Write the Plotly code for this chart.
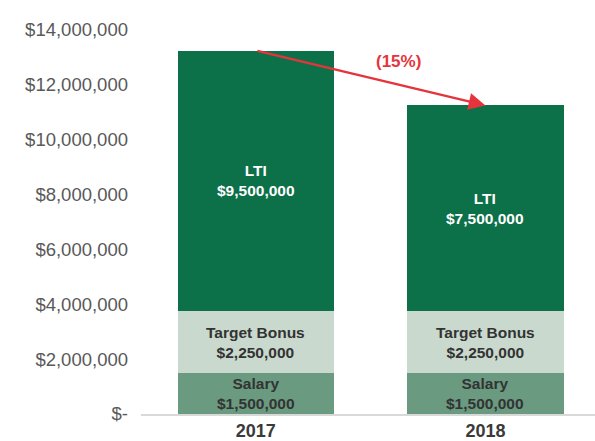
import plotly.graph_objects as go

years = ["2017", "2018"]
salary = [1500000, 1500000]
target_bonus = [2250000, 2250000]
lti = [9500000, 7500000]
tick_vals = [0, 2000000, 4000000, 6000000, 8000000, 10000000, 12000000, 14000000]
tick_text = ["$-", "$2,000,000", "$4,000,000", "$6,000,000", "$8,000,000",
             "$10,000,000", "$12,000,000", "$14,000,000"]

C_LTI = "#0C7049"
C_BONUS = "#C9D9CE"
C_SAL = "#6A9A80"
RED = "#E5343C"
FONT = "Liberation Sans, Arial, sans-serif"

fig = go.Figure()
for name, vals, col in [("Salary", salary, C_SAL), ("Target Bonus", target_bonus, C_BONUS), ("LTI", lti, C_LTI)]:
    fig.add_trace(go.Bar(x=years, y=vals, name=name, marker=dict(color=col, line=dict(width=0)),
                         width=0.68, showlegend=False, hoverinfo="skip"))

annotations = []
for i, yr in enumerate(years):
    segs = [("Salary", salary[i], 0, "#333333"),
            ("Target Bonus", target_bonus[i], salary[i], "#333333"),
            ("LTI", lti[i], salary[i] + target_bonus[i], "#FFFFFF")]
    for label, v, base, fc in segs:
        annotations.append(dict(x=i, y=base + v / 2, xref="x", yref="y", showarrow=False,
                                text=f"<b>{label}<br>${v:,.0f}</b>",
                                font=dict(family=FONT, size=15.5, color=fc)))

totals = [s + b + l for s, b, l in zip(salary, target_bonus, lti)]
change = (totals[1] - totals[0]) / totals[0]

annotations.append(dict(x=1, y=totals[1], ax=0, ay=totals[0],
                        xref="x", yref="y", axref="x", ayref="y",
                        showarrow=True, arrowhead=2, arrowsize=1.4, arrowwidth=2.4,
                        arrowcolor=RED, text="", standoff=0))
frac = 0.62
annotations.append(dict(x=frac, y=totals[0] + (totals[1] - totals[0]) * frac, xref="x", yref="y",
                        yshift=23, showarrow=False,
                        text=f"<b>({abs(change) * 100:.0f}%)</b>",
                        font=dict(family=FONT, size=17, color=RED)))

fig.update_layout(
    width=595, height=441,
    margin=dict(l=141, r=0, t=30, b=25),
    plot_bgcolor="white", paper_bgcolor="white",
    barmode="stack", bargap=0.32,
    annotations=annotations,
    xaxis=dict(type="category", range=[-0.5, 1.477], showgrid=False, showline=True,
               linecolor="#D9D9D9", linewidth=1.5,
               tickfont=dict(family=FONT, size=18, color="#3A3A3A"),
               tickvals=years, ticktext=[f"<b>{y}</b>" for y in years], ticks="", zeroline=False),
    yaxis=dict(range=[0, 14000000], tickvals=tick_vals, ticktext=tick_text, showgrid=False,
               showline=False, zeroline=False, ticks="", ticklabelstandoff=12,
               tickfont=dict(family=FONT, size=18.5, color="#595959")),
)

fig.write_html("out.html", config={"displayModeBar": False},
               post_script="document.body.style.margin='0';")
